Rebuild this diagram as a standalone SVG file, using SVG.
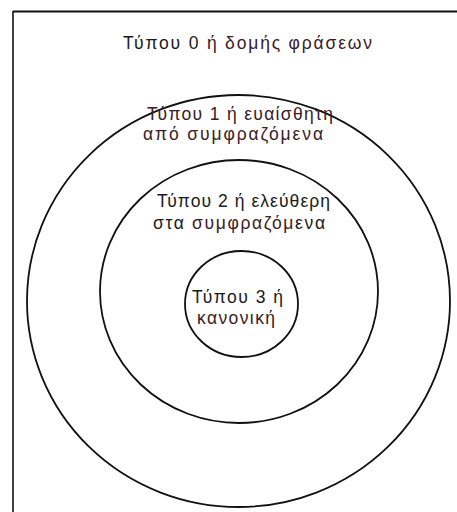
<svg xmlns="http://www.w3.org/2000/svg" width="457" height="512" viewBox="0 0 457 512">
  <style>
    .ring { fill: none; stroke: #111; stroke-width: 1.8; }
    .lbl { font-family: "Liberation Sans", Arial, sans-serif; font-size: 17.5px; fill: #1a1a1a; text-anchor: start; }
    .tint { fill: #3a2026; }
    .frame { stroke: #111; fill: none; }
  </style>
  <rect width="457" height="512" fill="#ffffff"/>
  <g id="frame">
    <line class="frame" x1="13" y1="11.5" x2="457" y2="11.5" stroke-width="2.2"/>
    <line class="frame" x1="13" y1="11" x2="13" y2="512" stroke-width="1.6" stroke="#444"/>
  </g>
  <g id="type0">
    <ellipse class="ring" cx="238.5" cy="301" rx="211.5" ry="206"/>
    <text class="lbl" x="123" y="49" textLength="249" lengthAdjust="spacing">Τύπου 0 <tspan class="tint">ή δομής φράσεων</tspan></text>
  </g>
  <g id="type1">
    <ellipse class="ring" cx="239" cy="291.5" rx="139" ry="131.5"/>
    <text class="lbl tint" x="147" y="120" textLength="186" lengthAdjust="spacing">Τύπου 1 ή ευαίσθητη</text>
    <text class="lbl tint" x="143" y="140" textLength="180" lengthAdjust="spacing">από συμφραζόμενα</text>
  </g>
  <g id="type2">
    <ellipse class="ring" cx="241.5" cy="304" rx="56.5" ry="53"/>
    <text class="lbl" x="157" y="207" textLength="173" lengthAdjust="spacing">Τύπου 2 ή ελεύθερη</text>
    <text class="lbl" x="153" y="229" textLength="172" lengthAdjust="spacing">στα <tspan class="tint">συμφραζόμ</tspan>ενα</text>
  </g>
  <g id="type3">
    <text class="lbl" x="192" y="303" textLength="91" lengthAdjust="spacing">Τύπου 3 ή</text>
    <text class="lbl tint" x="197" y="324" textLength="78" lengthAdjust="spacing">κανονική</text>
  </g>
</svg>
